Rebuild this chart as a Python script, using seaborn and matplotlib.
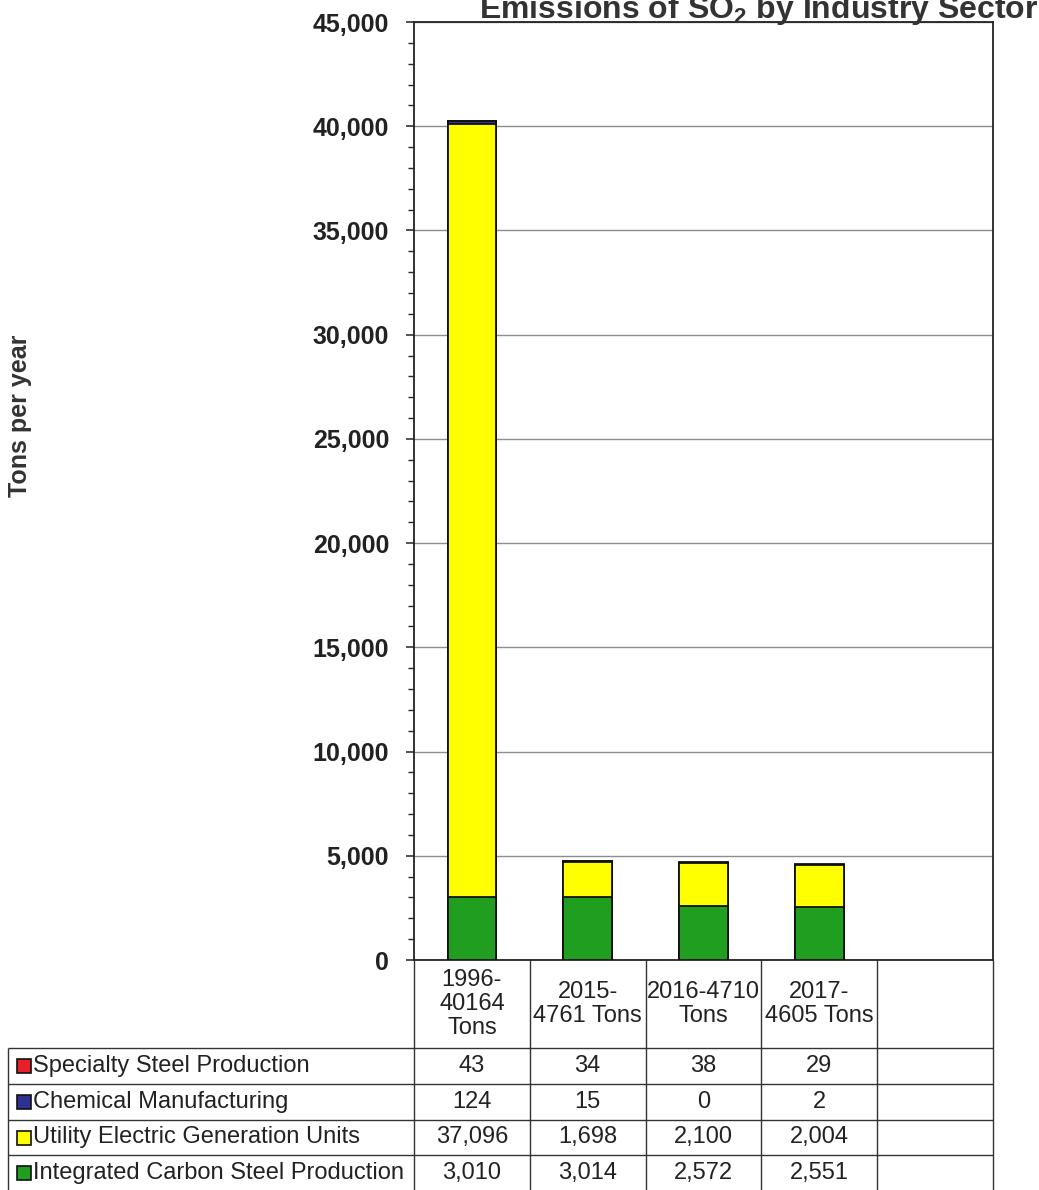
import matplotlib
matplotlib.use("Agg")
import matplotlib.pyplot as plt
import numpy as np
import pandas as pd
import seaborn as sns
from matplotlib.ticker import MultipleLocator, FuncFormatter

# ---- data -------------------------------------------------------------
years = ["1996-\n40164\nTons", "2015-\n4761 Tons", "2016-4710\nTons", "2017-\n4605 Tons"]
sectors = ["Specialty Steel Production", "Chemical Manufacturing",
           "Utility Electric Generation Units", "Integrated Carbon Steel Production"]
specialty_steel = [43, 34, 38, 29]
chemical_mfg = [124, 15, 0, 2]
utility_electric = [37096, 1698, 2100, 2004]
carbon_steel = [3010, 3014, 2572, 2551]
sector_colors = ["#e8202c", "#2e3192", "#ffff00", "#1f9e1f"]
y_max = 45000

# ---- style ------------------------------------------------------------
sns.set_style("ticks")
plt.rcParams["font.family"] = ["Liberation Sans", "DejaVu Sans"]
plt.rcParams["mathtext.fontset"] = "custom"
plt.rcParams["mathtext.rm"] = "Liberation Sans"
plt.rcParams["mathtext.bf"] = "Liberation Sans:bold"

W, H = 1039, 1190
fig = plt.figure(figsize=(W / 100, H / 100), dpi=100)

AX_L, AX_R, AX_T, AX_B = 414, 993, 22, 960
ax = fig.add_axes([AX_L / W, 1 - AX_B / H, (AX_R - AX_L) / W, (AX_B - AX_T) / H])

# stacked layers, bottom to top: carbon steel, utility, chemical, specialty
series = [specialty_steel, chemical_mfg, utility_electric, carbon_steel]
stack_order = series[::-1]
cum = np.cumsum(np.array(stack_order), axis=0)
df = pd.DataFrame({"year": years})
for k in range(len(stack_order)):
    df[f"top{k}"] = cum[k]
layer_colors = sector_colors[::-1]

# draw tallest cumulative first so lower layers sit on top
for k in reversed(range(len(stack_order))):
    sns.barplot(data=df, x="year", y=f"top{k}", color=layer_colors[k],
                width=0.42, saturation=1, edgecolor="#111111", linewidth=1.3,
                errorbar=None, ax=ax, zorder=3)

n_cols = 5
ax.set_xlim(-0.5, n_cols - 0.5)
ax.set_ylim(0, y_max)
ax.set_xlabel("")
ax.set_ylabel("")
ax.tick_params(axis="x", bottom=False, labelbottom=False)
ax.yaxis.set_major_locator(MultipleLocator(5000))
ax.yaxis.set_minor_locator(MultipleLocator(1000))
ax.yaxis.set_major_formatter(FuncFormatter(lambda v, p: f"{int(v):,}"))
ax.tick_params(axis="y", which="major", length=6, width=1.1, direction="out",
               pad=12, labelsize=18, colors="#222222")
ax.tick_params(axis="y", which="minor", length=4, width=1.0, direction="out")
for lab in ax.get_yticklabels():
    lab.set_fontweight("bold")
ax.set_axisbelow(True)
ax.yaxis.grid(True, which="major", color="#8c8c8c", linewidth=1.0)
ax.xaxis.grid(False)
for s in ax.spines.values():
    s.set_visible(True)
    s.set_color("#222222")
    s.set_linewidth(1.3)

# ---- titles -----------------------------------------------------------
fig.text(759 / W, 1 - 18 / H, r"Emissions of SO$_\mathbf{2}$ by Industry Sector",
         fontsize=23, fontweight="bold", ha="center", va="baseline", color="#333333")
fig.text(20 / W, 1 - 416 / H, "Tons per year", rotation=90, ha="center", va="center",
         fontsize=18, fontweight="bold", color="#333333")

# ---- data table beneath the plot ---------------------------------------
TAB_H = H - AX_B
tab = fig.add_axes([AX_L / W, 0, (AX_R - AX_L) / W, TAB_H / H])
tab.set_xlim(-0.5, n_cols - 0.5)
tab.set_ylim(TAB_H, 0)
tab.axis("off")
col_w = (AX_R - AX_L) / n_cols


def px_to_x(px):
    return -0.5 + (px - AX_L) / col_w


line_kw = dict(color="#333333", linewidth=1.0, clip_on=False)
row_edges = [88, 124, 160, 195, TAB_H]
tab.hlines(row_edges[:-1], px_to_x(8), n_cols - 0.5, **line_kw)
tab.vlines(np.arange(n_cols + 1) - 0.5, 0, TAB_H, **line_kw)
tab.vlines(px_to_x(8), row_edges[0], TAB_H, **line_kw)

txt_kw = dict(fontsize=17, color="#222222", clip_on=False)
for i, lab in enumerate(years):
    tab.text(i, row_edges[0] / 2, lab, ha="center", va="center", linespacing=1.12, **txt_kw)

for r, (name, vals, col) in enumerate(zip(sectors, series, sector_colors)):
    yc = (row_edges[r] + row_edges[r + 1]) / 2
    tab.plot(px_to_x(23.5), yc, marker="s", ms=9.5, mfc=col, mec="#111111", mew=1.2,
             clip_on=False)
    tab.text(px_to_x(33), yc, name, ha="left", va="center", **txt_kw)
    for i, v in enumerate(vals):
        tab.text(i, yc, f"{v:,}", ha="center", va="center", **txt_kw)

fig.savefig("out.png", dpi=100)
